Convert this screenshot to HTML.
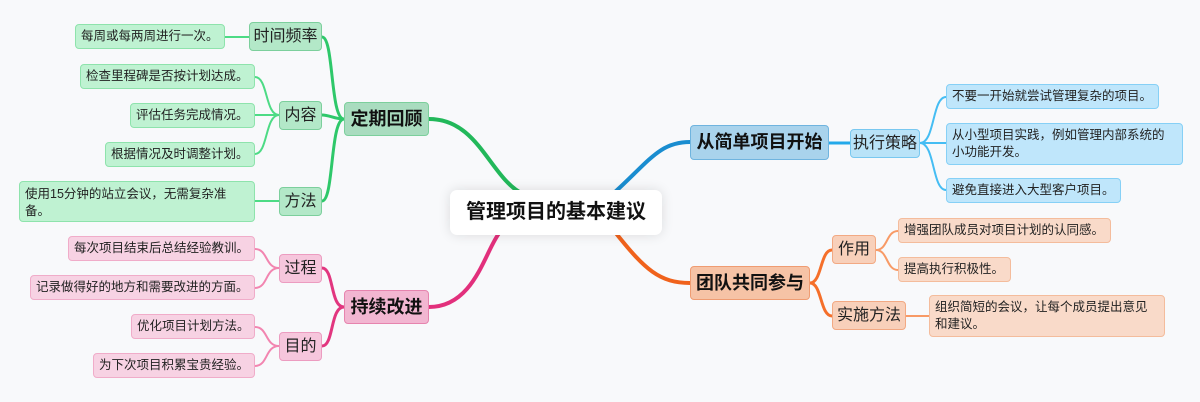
<!DOCTYPE html>
<html><head><meta charset="utf-8"><style>
body{margin:0;width:1200px;height:402px;background:#f8f9fb;position:relative;overflow:hidden;font-family:"Liberation Sans","Noto Sans CJK SC",sans-serif;}
.n{position:absolute;box-sizing:border-box;border-radius:4px;display:flex;align-items:center;color:#222;line-height:17px;white-space:nowrap;}
.g1{background:#a9dcbf;border:1.5px solid #7ccf9c;font-weight:bold;font-size:18px;justify-content:center;color:#111}
.g2{background:#b3e8c8;border:1.5px solid #7ccf9c;font-size:16px;justify-content:center}
.g3{background:#bff2d2;border:1.5px solid #8ee3ac;font-size:12.5px;padding:0 5px}
.p1{background:#f2b6d1;border:1.5px solid #e684ae;font-weight:bold;font-size:18px;justify-content:center;color:#111}
.p2{background:#f6c6dc;border:1.5px solid #ec9cc0;font-size:16px;justify-content:center}
.p3{background:#f7d2e3;border:1.5px solid #f0acc9;font-size:12.5px;padding:0 5px}
.b1{background:#a9d3ec;border:1.5px solid #6fb4df;font-weight:bold;font-size:18px;justify-content:center;color:#111}
.b2{background:#b9e3f8;border:1.5px solid #79c8f0;font-size:16px;justify-content:center}
.b3{background:#bfe6fb;border:1.5px solid #86d0f6;font-size:12.5px;padding:0 5px}
.o1{background:#f6c3a6;border:1.5px solid #ef9c72;font-weight:bold;font-size:18px;justify-content:center;color:#111}
.o2{background:#f8d0ba;border:1.5px solid #f2a983;font-size:16px;justify-content:center}
.o3{background:#f9dac9;border:1.5px solid #f4bc9c;font-size:12.5px;padding:0 5px}
</style></head><body>
<svg width="1200" height="402" style="position:absolute;left:0;top:0" fill="none">
<g stroke="#22b85a" stroke-width="4"><path d="M429,119 C480,119 490,180 525,195"/></g>
<g stroke="#e2307c" stroke-width="4"><path d="M429,307 C475,307 485,250 500,232"/></g>
<g stroke="#1a8dd0" stroke-width="4"><path d="M615,192 C650,160 660,142 690,142"/></g>
<g stroke="#f0621c" stroke-width="4"><path d="M615,232 C645,270 660,283 690,283"/></g>
<g stroke="#2ec86a" stroke-width="3">
<path d="M344,119 C330,119 334,37 322,37"/><path d="M344,119 C334,119 330,115 322,115"/><path d="M344,119 C330,119 334,201 322,201"/></g>
<g stroke="#4ddb85" stroke-width="2">
<path d="M249,37 L225,37"/><path d="M279,115 C265,115 268,77 255,77"/><path d="M279,115 L255,115"/><path d="M279,115 C265,115 268,154 255,154"/><path d="M279,201 L255,201"/></g>
<g stroke="#e2367f" stroke-width="3">
<path d="M344,307 C330,307 334,268 322,268"/><path d="M344,307 C330,307 334,346 322,346"/></g>
<g stroke="#f285b0" stroke-width="2">
<path d="M279,268 C265,268 268,249 255,249"/><path d="M279,268 C265,268 268,288 255,288"/><path d="M279,346 C265,346 268,327 255,327"/><path d="M279,346 C265,346 268,366 255,366"/></g>
<g stroke="#23a9ea" stroke-width="3"><path d="M829,143 L850,143"/></g>
<g stroke="#45bdf3" stroke-width="2">
<path d="M920,143 C935,143 932,97 946,97"/><path d="M920,143 L946,143"/><path d="M920,143 C935,143 932,190 946,190"/></g>
<g stroke="#f56f2a" stroke-width="3">
<path d="M810,283 C822,283 820,250 832,250"/><path d="M810,283 C822,283 820,316 832,316"/></g>
<g stroke="#f89a66" stroke-width="2">
<path d="M876,250 C888,250 886,231 898,231"/><path d="M876,250 C888,250 886,270 898,270"/><path d="M906,316 L929,316"/></g>
</svg>
<div class="n" style="left:450px;top:190px;width:212px;height:45px;background:#fff;border-radius:7px;box-shadow:0 0 12px rgba(0,0,0,0.12);justify-content:center;font-weight:bold;font-size:20px;color:#111">管理项目的基本建议</div>

<div class="n g1" style="left:344px;top:102px;width:85px;height:34px">定期回顾</div>
<div class="n g2" style="left:249px;top:22px;width:73px;height:29px">时间频率</div>
<div class="n g3" style="left:75px;top:24px;width:150px;height:25px">每周或每两周进行一次。</div>
<div class="n g2" style="left:279px;top:101px;width:43px;height:29px">内容</div>
<div class="n g3" style="left:80px;top:64px;width:175px;height:25px">检查里程碑是否按计划达成。</div>
<div class="n g3" style="left:130px;top:103px;width:125px;height:25px">评估任务完成情况。</div>
<div class="n g3" style="left:105px;top:142px;width:150px;height:25px">根据情况及时调整计划。</div>
<div class="n g2" style="left:279px;top:187px;width:43px;height:29px">方法</div>
<div class="n g3" style="left:19px;top:181px;width:236px;height:41px;align-items:flex-start;padding-top:4px">使用15分钟的站立会议，无需复杂准<br>备。</div>

<div class="n p1" style="left:344px;top:290px;width:85px;height:34px">持续改进</div>
<div class="n p2" style="left:279px;top:254px;width:43px;height:29px">过程</div>
<div class="n p3" style="left:68px;top:236px;width:187px;height:25px">每次项目结束后总结经验教训。</div>
<div class="n p3" style="left:30px;top:275px;width:225px;height:25px">记录做得好的地方和需要改进的方面。</div>
<div class="n p2" style="left:279px;top:332px;width:43px;height:29px">目的</div>
<div class="n p3" style="left:131px;top:314px;width:124px;height:25px">优化项目计划方法。</div>
<div class="n p3" style="left:93px;top:353px;width:162px;height:25px">为下次项目积累宝贵经验。</div>

<div class="n b1" style="left:690px;top:125px;width:139px;height:35px">从简单项目开始</div>
<div class="n b2" style="left:850px;top:129px;width:70px;height:29px">执行策略</div>
<div class="n b3" style="left:946px;top:84px;width:213px;height:25px">不要一开始就尝试管理复杂的项目。</div>
<div class="n b3" style="left:946px;top:123px;width:237px;height:42px">从小型项目实践，例如管理内部系统的<br>小功能开发。</div>
<div class="n b3" style="left:946px;top:178px;width:175px;height:25px">避免直接进入大型客户项目。</div>

<div class="n o1" style="left:690px;top:266px;width:120px;height:34px">团队共同参与</div>
<div class="n o2" style="left:832px;top:235px;width:44px;height:29px">作用</div>
<div class="n o3" style="left:898px;top:218px;width:213px;height:25px">增强团队成员对项目计划的认同感。</div>
<div class="n o3" style="left:898px;top:257px;width:113px;height:25px">提高执行积极性。</div>
<div class="n o2" style="left:832px;top:301px;width:74px;height:29px">实施方法</div>
<div class="n o3" style="left:929px;top:295px;width:236px;height:42px">组织简短的会议，让每个成员提出意见<br>和建议。</div>
</body></html>
